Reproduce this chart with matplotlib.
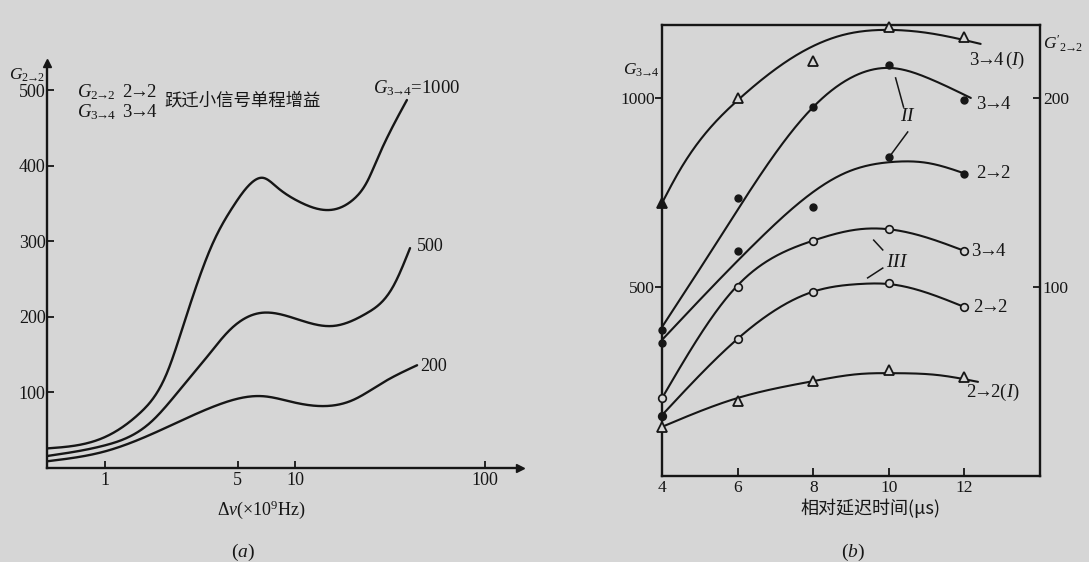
import numpy as np
import matplotlib
matplotlib.use("Agg")
import matplotlib.pyplot as plt

plt.rcParams['font.family'] = ['Liberation Serif', 'DejaVu Serif']
plt.rcParams['mathtext.fontset'] = 'custom'
plt.rcParams['mathtext.rm'] = 'Liberation Serif'
plt.rcParams['mathtext.it'] = 'Liberation Serif:italic'
plt.rcParams['mathtext.bf'] = 'Liberation Serif:bold'

CJK = ['Noto Sans CJK SC', 'DejaVu Sans']
INK = '#161616'
PAPER = '#d6d6d6'
ARR = r'\!\!\rightarrow\!\!'

# ---- (a) small-signal single-pass gain vs linewidth ----
nu_1000 = [0.5, 1.0, 1.53, 2.12, 2.54, 3.7, 4.72, 6.0, 6.8, 8.0, 10.6, 15.9, 20.2, 24.2, 27.0, 38.8]
g_1000 = [26, 41, 73, 126, 183, 298, 346, 379, 384, 372, 352, 342, 355, 381, 408, 487]
nu_500 = [0.5, 1.0, 1.73, 2.54, 3.44, 4.55, 6.5, 9.4, 15.9, 23.9, 32.8, 40.3]
g_500 = [16, 30, 60, 107, 147, 183, 205, 200, 188, 205, 240, 291]
nu_200 = [0.5, 1.0, 2.12, 3.88, 6.8, 9.8, 13.5, 20.2, 29.0, 43.9]
g_200 = [9, 22, 54, 83, 95, 87, 82, 90, 113, 136]
a_yticks = [100, 200, 300, 400, 500]
a_xticks = [1, 5, 10, 100]

# ---- (b) gain vs relative delay time ----
t_meas = [4, 6, 8, 10, 12]
g34_I = [722, 1000, 1098, 1188, 1161]
g34_II = [386, 735, 976, 1087, 995]
g22_II = [352, 595, 712, 845, 799]
g34_III = [206, 500, 622, 653, 595]
g22_III = [159, 362, 487, 511, 447]
g22_I = [130, 198, 251, 280, 262]

c34_I_t = [4, 4.43, 6.07, 7.47, 8.8, 10.05, 11.03, 12.43]
c34_I_g = [722, 802, 1000, 1108, 1167, 1180, 1172, 1143]
c34_II_t = [4, 5.49, 6.6, 8.0, 8.8, 10.1, 11.03, 12.17]
c34_II_g = [394, 624, 796, 976, 1042, 1079, 1053, 1000]
c22_II_t = [4, 6.55, 8.9, 10.13, 11.03, 12.04]
c22_II_g = [360, 624, 804, 831, 828, 799]
c34_III_t = [4, 5.96, 7.98, 9.25, 9.97, 11.03, 12.01]
c34_III_g = [206, 500, 622, 653, 653, 630, 595]
c22_III_t = [4, 5.99, 7.98, 9.25, 9.97, 11.03, 12.0]
c22_III_g = [161, 362, 487, 508, 508, 484, 447]
c22_I_t = [4, 5.99, 8.0, 9.25, 10.13, 11.3, 12.36]
c22_I_g = [130, 206, 251, 270, 272, 267, 249]
b_xticks = [4, 6, 8, 10, 12]
b_yticks = [500, 1000]
b_rticks = [100, 200]


def natural_spline(xs, ys, n=400):
    """Natural cubic spline through the knots (xs strictly increasing)."""
    x = np.asarray(xs, float)
    y = np.asarray(ys, float)
    m = len(x) - 1
    h = np.diff(x)
    A = np.zeros((m + 1, m + 1))
    r = np.zeros(m + 1)
    A[0, 0] = A[m, m] = 1.0
    for i in range(1, m):
        A[i, i - 1] = h[i - 1]
        A[i, i] = 2 * (h[i - 1] + h[i])
        A[i, i + 1] = h[i]
        r[i] = 6 * ((y[i + 1] - y[i]) / h[i] - (y[i] - y[i - 1]) / h[i - 1])
    M = np.linalg.solve(A, r)
    xx = np.linspace(x[0], x[-1], n)
    k = np.clip(np.searchsorted(x, xx) - 1, 0, m - 1)
    a = x[k + 1] - xx
    b = xx - x[k]
    hk = h[k]
    yy = (M[k] * a ** 3 / (6 * hk) + M[k + 1] * b ** 3 / (6 * hk)
          + (y[k] / hk - M[k] * hk / 6) * a + (y[k + 1] / hk - M[k + 1] * hk / 6) * b)
    return xx, yy


W, H = 1089, 562
fig = plt.figure(figsize=(W / 100, H / 100), dpi=100, facecolor=PAPER)


def fx(px):
    return px / W


def fy(py):
    return 1 - py / H


# ================= panel (a) =================
ax1 = fig.add_axes([fx(47), fy(468), fx(520) - fx(47), fy(63) - fy(468)])
ax1.set_facecolor('none')
ax1.set_xscale('log')
ax1.set_xlim(0.495, 152.8)
ax1.set_ylim(0, 536)
for sp in ('top', 'right'):
    ax1.spines[sp].set_visible(False)
for sp in ('left', 'bottom'):
    ax1.spines[sp].set_linewidth(1.7)
    ax1.spines[sp].set_color(INK)
ax1.set_xticks(a_xticks)
ax1.set_xticklabels([str(v) for v in a_xticks])
ax1.xaxis.set_minor_locator(matplotlib.ticker.NullLocator())
ax1.set_yticks(a_yticks)
ax1.tick_params(axis='both', direction='in', length=5, width=1.3, colors=INK,
                labelsize=13, pad=3)
ax1.tick_params(axis='y', pad=1)
ax1.plot([0], [1], marker='^', ms=6, color=INK, transform=ax1.transAxes, clip_on=False)
ax1.plot([1], [0], marker='>', ms=6, color=INK, transform=ax1.transAxes, clip_on=False)

for nu, g in ((nu_1000, g_1000), (nu_500, g_500), (nu_200, g_200)):
    lx, ly = natural_spline(np.log10(nu), g)
    ax1.plot(10 ** lx, ly, color=INK, lw=1.7, solid_capstyle='round')

ax1.text(25.7, 503, r'$G_{3' + ARR + r'4}$=1000', fontsize=13.5, color=INK,
         va='center', ha='left')
ax1.text(43.9, 293, '500', fontsize=13, color=INK, va='center', ha='left')
ax1.text(45.6, 134, '200', fontsize=13, color=INK, va='center', ha='left')

ax1.set_xlabel(r'$\Delta\nu$(×10$^9$Hz)', fontsize=13, color=INK, labelpad=2)
ax1.xaxis.set_label_coords((261 - 47) / (520 - 47), -(498 - 468) / (468 - 63))

fig.text(fx(9), fy(75), r'$G_{2' + ARR + r'2}$', fontsize=12.5, color=INK, va='center', ha='left')
fig.text(fx(77), fy(92), r'$G_{2' + ARR + r'2}\;\;2' + ARR + r'2$', fontsize=13.5, color=INK,
         va='center', ha='left')
fig.text(fx(77), fy(112), r'$G_{3' + ARR + r'4}\;\;3' + ARR + r'4$', fontsize=13.5, color=INK,
         va='center', ha='left')
fig.text(fx(164), fy(101), '跃迁小信号单程增益', fontsize=12.5, color=INK, va='center',
         ha='left', family=CJK)
fig.text(fx(243), fy(552), r'$(a)$', fontsize=14, color=INK, va='center', ha='center')

# ================= panel (b) =================
ax2 = fig.add_axes([fx(662), fy(476), fx(1040) - fx(662), fy(25) - fy(476)])
ax2.set_facecolor('none')
ax2.set_xlim(4, 14)
ax2.set_ylim(0, 1193)
for sp in ax2.spines.values():
    sp.set_linewidth(1.7)
    sp.set_color(INK)
ax2.set_xticks(b_xticks)
ax2.set_yticks(b_yticks)
ax2.tick_params(axis='x', direction='in', length=6, width=1.3, colors=INK, labelsize=12.5, pad=3)
ax2.tick_params(axis='y', direction='out', length=5, width=1.3, colors=INK, labelsize=12.5, pad=0)

ax3 = ax2.twinx()
ax3.set_ylim(0, 1193 / 5)
ax3.set_yticks(b_rticks)
ax3.tick_params(axis='y', direction='in', length=5, width=1.3, colors=INK, labelsize=12.5, pad=2)
for sp in ax3.spines.values():
    sp.set_visible(False)

curves = [(c34_I_t, c34_I_g), (c34_II_t, c34_II_g), (c22_II_t, c22_II_g),
          (c34_III_t, c34_III_g), (c22_III_t, c22_III_g), (c22_I_t, c22_I_g)]
for ct, cg in curves:
    sx, sy = natural_spline(ct, cg)
    ax2.plot(sx, sy, color=INK, lw=1.5, solid_capstyle='round', zorder=2)

mk = dict(color=INK, ls='none', zorder=3, clip_on=False)
ax2.plot(t_meas[1:], g34_I[1:], marker='^', ms=6.5, mfc=PAPER, mew=1.3, **mk)
ax2.plot(t_meas[:1], g34_I[:1], marker='^', ms=7, mfc=INK, mew=1.3, **mk)
ax2.plot(t_meas, g34_II, marker='o', ms=5, mfc=INK, mew=1.0, **mk)
ax2.plot(t_meas, g22_II, marker='o', ms=5, mfc=INK, mew=1.0, **mk)
ax2.plot(t_meas, g34_III, marker='o', ms=5.5, mfc=PAPER, mew=1.2, **mk)
ax2.plot(t_meas[1:], g22_III[1:], marker='o', ms=5.5, mfc=PAPER, mew=1.2, **mk)
ax2.plot(t_meas[:1], g22_III[:1], marker='o', ms=5.5, mfc=INK, mew=1.2, **mk)
ax2.plot(t_meas, g22_I, marker='^', ms=6.5, mfc=PAPER, mew=1.3, **mk)

lab = dict(fontsize=13.5, color=INK, va='center', ha='left')
ax2.text(12.12, 1100, r'$3' + ARR + r'4\,(I)$', **lab)
ax2.text(12.3, 984, r'$3' + ARR + r'4$', **lab)
ax2.text(12.3, 799, r'$2' + ARR + r'2$', **lab)
ax2.text(12.17, 595, r'$3' + ARR + r'4$', **lab)
ax2.text(12.22, 447, r'$2' + ARR + r'2$', **lab)
ax2.text(12.04, 220, r'$2' + ARR + r'2(I)$', **lab)

ax2.text(10.5, 950, r'$II$', fontsize=14, color=INK, va='center', ha='center')
ax2.plot([10.18, 10.39], [1053, 976], color=INK, lw=1.1)
ax2.plot([10.5, 10.05], [910, 849], color=INK, lw=1.1)
ax2.text(10.23, 566, r'$III$', fontsize=14, color=INK, va='center', ha='center')
ax2.plot([9.6, 9.84], [624, 598], color=INK, lw=1.1)
ax2.plot([9.84, 9.44], [550, 524], color=INK, lw=1.1)

fig.text(fx(659), fy(70), r'$G_{3' + ARR + r'4}$', fontsize=12.5, color=INK, va='center', ha='right')
fig.text(fx(1043), fy(44), r"$G'_{2" + ARR + r"2}$", fontsize=12.5, color=INK, va='center', ha='left')
fig.text(fx(870), fy(508), '相对延迟时间(μs)', fontsize=13, color=INK, va='center',
         ha='center', family=CJK)
fig.text(fx(853), fy(552), r'$(b)$', fontsize=14, color=INK, va='center', ha='center')

fig.savefig('out.png', dpi=100, facecolor=PAPER)
